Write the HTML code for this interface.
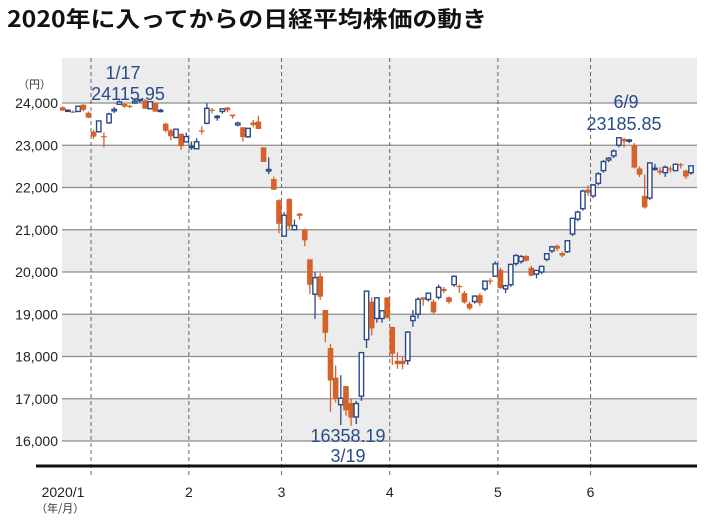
<!DOCTYPE html>
<html><head><meta charset="utf-8">
<style>
body{margin:0;background:#fff;}
svg{display:block;font-family:"Liberation Sans","Noto Sans CJK JP",sans-serif;}
</style></head>
<body>
<svg id="chart" width="710" height="521" viewBox="0 0 710 521" xmlns="http://www.w3.org/2000/svg">
<text x="7" y="27" font-size="22" font-weight="bold" fill="#111" textLength="480" lengthAdjust="spacingAndGlyphs" font-family="'Noto Sans CJK JP',sans-serif">2020年に入ってからの日経平均株価の動き</text>
<g id="bands"></g><g id="grid"></g><g id="months"></g><g id="candles"></g><g id="labels"></g>
<text x="18" y="88" font-size="11" fill="#333" font-family="'Noto Sans CJK JP',sans-serif">（円）</text>
<text x="36" y="512" font-size="11" fill="#333" font-family="'Noto Sans CJK JP',sans-serif">（年/月）</text>
<text x="123" y="79" font-size="18" fill="#2b4a8a" text-anchor="middle">1/17</text>
<text x="128" y="100" font-size="18" fill="#2b4a8a" text-anchor="middle">24115.95</text>
<text x="626" y="108" font-size="18" fill="#2b4a8a" text-anchor="middle">6/9</text>
<text x="624" y="130" font-size="18" fill="#2b4a8a" text-anchor="middle">23185.85</text>
<text x="348" y="442" font-size="18" fill="#2b4a8a" text-anchor="middle">16358.19</text>
<text x="348" y="462" font-size="18" fill="#2b4a8a" text-anchor="middle">3/19</text>
</svg>
<script>
const yTicks=[16000,17000,18000,19000,20000,21000,22000,23000,24000];
const monthLabels=["2020/1","2","3","4","5","6"];
const monthStartIdx=[6,25,43,64,85,103];
const opens=[23900,23830,23800,23800,23960,23770,
23320,23320,23217,23530,23813,23970,23977,23935,24000,24078,24060,23865,24004,23813,23510,23351,23183,23270,23080,
22950,22917,23350,23520,23840,23655,23800,23895,23725,23480,23426,23200,23538,23560,22950,22390,22200,21700,
20849,21726,21000,21383,21009,20300,19475,19900,19100,18200,17500,16860,17300,16900,16570,17060,18400,19300,18900,18900,19400,
18700,17900,17900,17900,18850,19000,19400,19350,19300,19400,19600,19400,19700,19670,19500,19250,19300,19450,19600,19800,19900,
20050,19600,19700,20200,20250,20380,20100,19950,20000,20300,20500,20620,20450,20480,20900,21250,21500,21950,
21800,22100,22400,22650,22750,23000,23150,23100,23000,22450,21800,21750,22450,22400,22350,22450,22400,22550,22400,22350];
const highs=[23920,23850,23820,23940,23970,23800,
23365,23577,23303,23767,23903,24059,23995,23959,24116,24084,24097,24034,24004,23864,23532,23385,23394,23282,23294,
23090,23165,23449,23995,23882,23716,23872,23900,23725,23560,23426,23400,23598,23700,22950,22710,22256,21720,
21415,21746,21240,21399,21023,20300,20000,19977,19100,18300,17785,17557,17300,17000,16950,18100,19564,19400,19400,19100,19400,
18700,18100,18000,18600,19100,19400,19400,19500,19350,19700,19650,19420,19920,19700,19550,19300,19450,19500,19800,19850,20250,
20100,19700,20200,20420,20400,20400,20150,20050,20150,20450,20620,20650,20480,20760,21280,21450,21950,22050,
22080,22360,22650,22720,22900,23186,23180,23150,23050,22500,22300,22600,22560,22480,22520,22500,22570,22580,22420,22520];
const lows=[23810,23790,23760,23790,23800,23640,
23148,23299,22951,23506,23761,23959,23884,23875,23974,24000,23863,23849,23795,23775,23301,23115,23161,22892,23063,
22892,22917,23262,23496,23755,23581,23746,23780,23630,23450,23085,23174,23423,23380,22605,22315,21948,20916,
20834,21008,20987,21243,20613,19475,18891,19343,18339,16690,16914,16378,16600,16358,16400,16950,18200,18500,18800,18800,18900,
17800,17707,17700,17800,18700,18900,19200,19300,19000,19350,19500,19250,19650,19500,19250,19100,19250,19200,19550,19700,19950,
19600,19500,19650,20150,20200,20250,19900,19850,19950,20250,20450,20500,20350,20450,20850,21200,21450,21800,
21750,22050,22350,22600,22700,22950,22950,23050,22450,22250,21500,21700,22400,22300,22250,22350,22380,22450,22200,22300];
const closes=[23821,23830,23782,23924,23837,23656,
23204,23575,23204,23739,23850,24025,23917,23933,24041,24083,23864,24031,23795,23827,23343,23215,23379,22977,23205,
22972,23084,23320,23873,23827,23685,23861,23827,23687,23523,23194,23400,23479,23386,22605,22426,21948,21142,
21344,21082,21100,21329,20749,19698,19867,19416,18559,17431,17002,17011,16726,16552,16887,18092,19546,18664,19389,19084,18917,
18065,17819,17820,18576,18950,19353,19345,19498,19043,19638,19550,19290,19897,19669,19280,19137,19429,19262,19783,19771,20193,
19619,19674,20179,20390,20366,20267,19914,20037,20133,20433,20595,20552,20388,20741,21271,21419,21916,21877,
22062,22325,22613,22695,22864,23178,23091,23124,22472,22305,21530,22582,22455,22355,22478,22437,22549,22534,22260,22512];

const NS="http://www.w3.org/2000/svg";
const X0=62.7, STEP=5.15, PL=62, PR=697, PT=58, PB=466;
const xs=i=>X0+i*STEP;
const ys=v=>103+(24000-v)*0.04225;
function mk(tag,attrs,parent){const e=document.createElementNS(NS,tag);for(const k in attrs)e.setAttribute(k,attrs[k]);parent.appendChild(e);return e;}
const bands=document.getElementById('bands'),grid=document.getElementById('grid'),months=document.getElementById('months'),cg=document.getElementById('candles'),lab=document.getElementById('labels');
const bandTop=[16000,18000,20000,22000];
let r=mk('rect',{x:PL,y:PT,width:PR-PL,height:ys(24000)-PT,fill:'#ececec'},bands);


bandTop.forEach(v=>{
  const b=mk('rect',{x:PL,y:ys(v+1000),width:PR-PL,height:ys(v)-ys(v+1000),fill:'#ececec'},bands);
  
  
});
yTicks.forEach(v=>{
  const l=mk('line',{x1:PL,x2:PR,y1:ys(v),y2:ys(v),stroke:'#8c8c8c','stroke-width':1.3},grid);
  
  
  const t=mk('text',{x:58,y:ys(v)+5,'font-size':14,fill:'#222','text-anchor':'end'},lab);
  t.textContent=v.toLocaleString('en-US');
  
  
});
monthStartIdx.forEach((mi,k)=>{
  const x=xs(mi-0.5);
  const l=mk('line',{x1:x,x2:x,y1:PT,y2:478,stroke:'#666','stroke-width':1,'stroke-dasharray':'4,3'},months);
  
  
  const t=mk('text',{x:k==0?x-28:x,y:497,'font-size':14,fill:'#222','text-anchor':'middle'},lab);
  t.textContent=monthLabels[k];
  
  
});
const ax=mk('line',{x1:36,x2:PR,y1:PB,y2:PB,stroke:'#111','stroke-width':3},lab);


for(let i=0;i<closes.length;i++){
  const up=closes[i]>=opens[i];
  const col=up?'#2b4a8a':'#d5622a';
  const x=xs(i);
  const g=mk('g',{},cg);
  
  
  mk('line',{x1:x,x2:x,y1:ys(highs[i]),y2:ys(lows[i]),stroke:col,'stroke-width':1.3},g);
  const top=ys(Math.max(opens[i],closes[i])), bot=ys(Math.min(opens[i],closes[i]));
  const h=Math.max(bot-top,1.2);
  if(up) mk('rect',{x:x-2.2,y:top,width:4.4,height:h,fill:'#fff',stroke:col,'stroke-width':1.4},g);
  else mk('rect',{x:x-2.8,y:top,width:5.6,height:h,fill:col},g);
}
</script>
</body></html>
